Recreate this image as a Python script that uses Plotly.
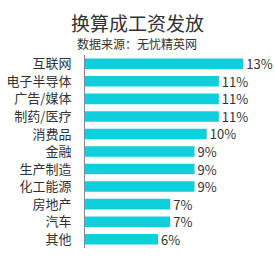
import plotly.graph_objects as go

categories = ["互联网", "电子半导体", "广告/媒体", "制药/医疗", "消费品", "金融",
              "生产制造", "化工能源", "房地产", "汽车", "其他"]
values = [13, 11, 11, 11, 10, 9, 9, 9, 7, 7, 6]
labels = [f"{v}%" for v in values]

font_cjk = "Noto Sans CJK SC, Microsoft YaHei, sans-serif"

fig = go.Figure(go.Bar(
    x=values, y=categories, orientation="h",
    marker=dict(color="#0ecfdb", line=dict(width=0)),
    text=labels, textposition="outside", cliponaxis=False, constraintext="none",
    textfont=dict(size=13, color="#333333", family=font_cjk),
    width=0.6,
))

fig.update_layout(
    width=275, height=261,
    margin=dict(l=85, r=5, t=55, b=13),
    paper_bgcolor="white", plot_bgcolor="white",
    showlegend=False,
    font=dict(family=font_cjk, color="#333333"),
    xaxis=dict(range=[0, 185 / 12.17], visible=False, fixedrange=True),
    yaxis=dict(autorange="reversed", showline=True, linecolor="#888888", linewidth=1,
               ticks="", showgrid=False, tickfont=dict(size=13, color="#333333"),
               ticklabelstandoff=10),
    annotations=[
        dict(text="换算成工资发放", x=137, y=22, xref="paper", yref="paper",
             showarrow=False, font=dict(size=19, color="#333333")),
        dict(text="数据来源：无忧精英网", x=137, y=43, xref="paper", yref="paper",
             showarrow=False, font=dict(size=12, color="#333333")),
    ],
)
# convert annotation pixel positions to paper coords
pw, ph = 275 - 85 - 5, 261 - 55 - 13
for a in fig.layout.annotations:
    px, py = a.x, a.y
    a.x = (px - 85) / pw
    a.y = 1 + (55 - py) / ph
    a.xanchor = "center"
    a.yanchor = "middle"

fig.write_html("out.html")
